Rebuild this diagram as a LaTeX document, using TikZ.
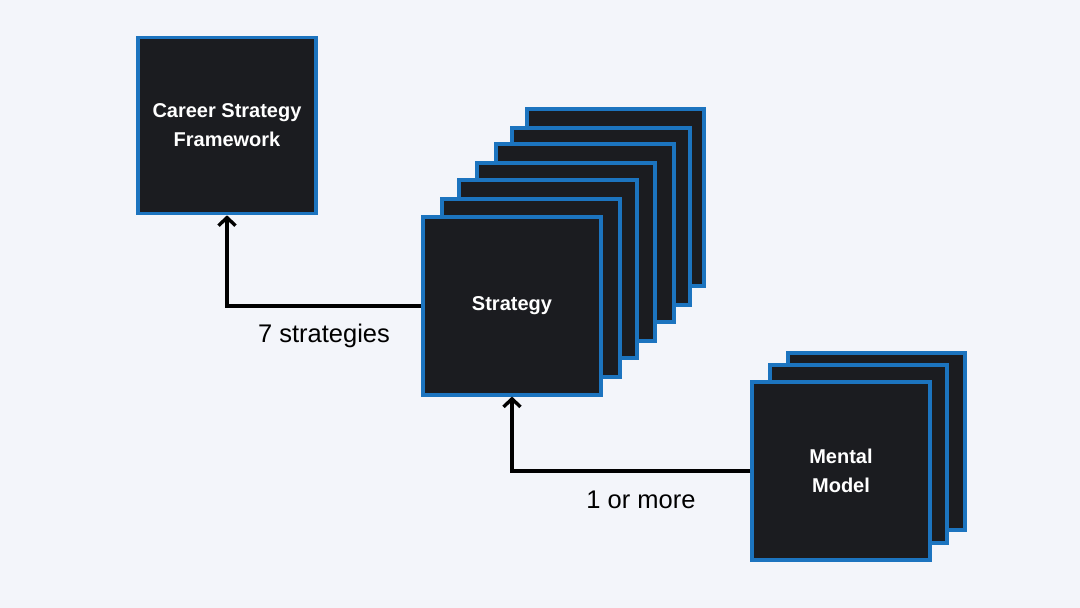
\documentclass[tikz,border=0pt]{standalone}
\usepackage{fontspec}
\setmainfont{Liberation Sans}
\usetikzlibrary{arrows.meta}
\definecolor{bgc}{HTML}{F3F5FA}
\definecolor{boxfill}{HTML}{1B1C20}
\definecolor{boxline}{HTML}{1C74BF}
\tikzset{
  card/.style={draw=boxline, fill=boxfill, line width=3.6pt, minimum width=177.5pt, minimum height=177.5pt, inner sep=0pt, text=white, align=center, font=\fontsize{20}{29}\selectfont\bfseries},
  link/.style={line width=3.5pt, draw=black, -{Straight Barb[length=8pt,width=17pt,line width=3.4pt]}},
  lbl/.style={font=\fontsize{25.5}{30}\selectfont, text=black}
}
\begin{document}
\begin{tikzpicture}[x=1pt,y=-1pt]
\fill[bgc] (0,0) rectangle (1080,608);
\useasboundingbox (0,0) rectangle (1080,608);
% career
\node[card, minimum height=176pt] (career) at (227,125.5) {Career Strategy\\Framework};
% strategy stack
\node[card] (s7) at (615.5,197.5) {};
\node[card] (s6) at (601,216.5) {};
\node[card] (s5) at (585,233) {};
\node[card] (s4) at (566,252) {};
\node[card] (s3) at (548,269) {};
\node[card] (s2) at (531,288) {};
\node[card] (strategy) at (512,306) {\raisebox{-2pt}{Strategy}};
% mental model stack
\node[card] (m3) at (876.5,441.5) {};
\node[card] (m2) at (858.5,454) {};
\node[card] (mental) at (841,471) {Mental\\Model};
% connectors
\coordinate (c1) at (227,306);
\draw[link] (strategy.west) -- (c1) -- (career.south);
\coordinate (c2) at (512,471);
\draw[link] (mental.west) -- (c2) -- (strategy.south);
\node[lbl] (l1) at (324,336) {7 strategies};
\node[lbl] (l2) at (641,500) {1 or more};
\end{tikzpicture}
\end{document}
